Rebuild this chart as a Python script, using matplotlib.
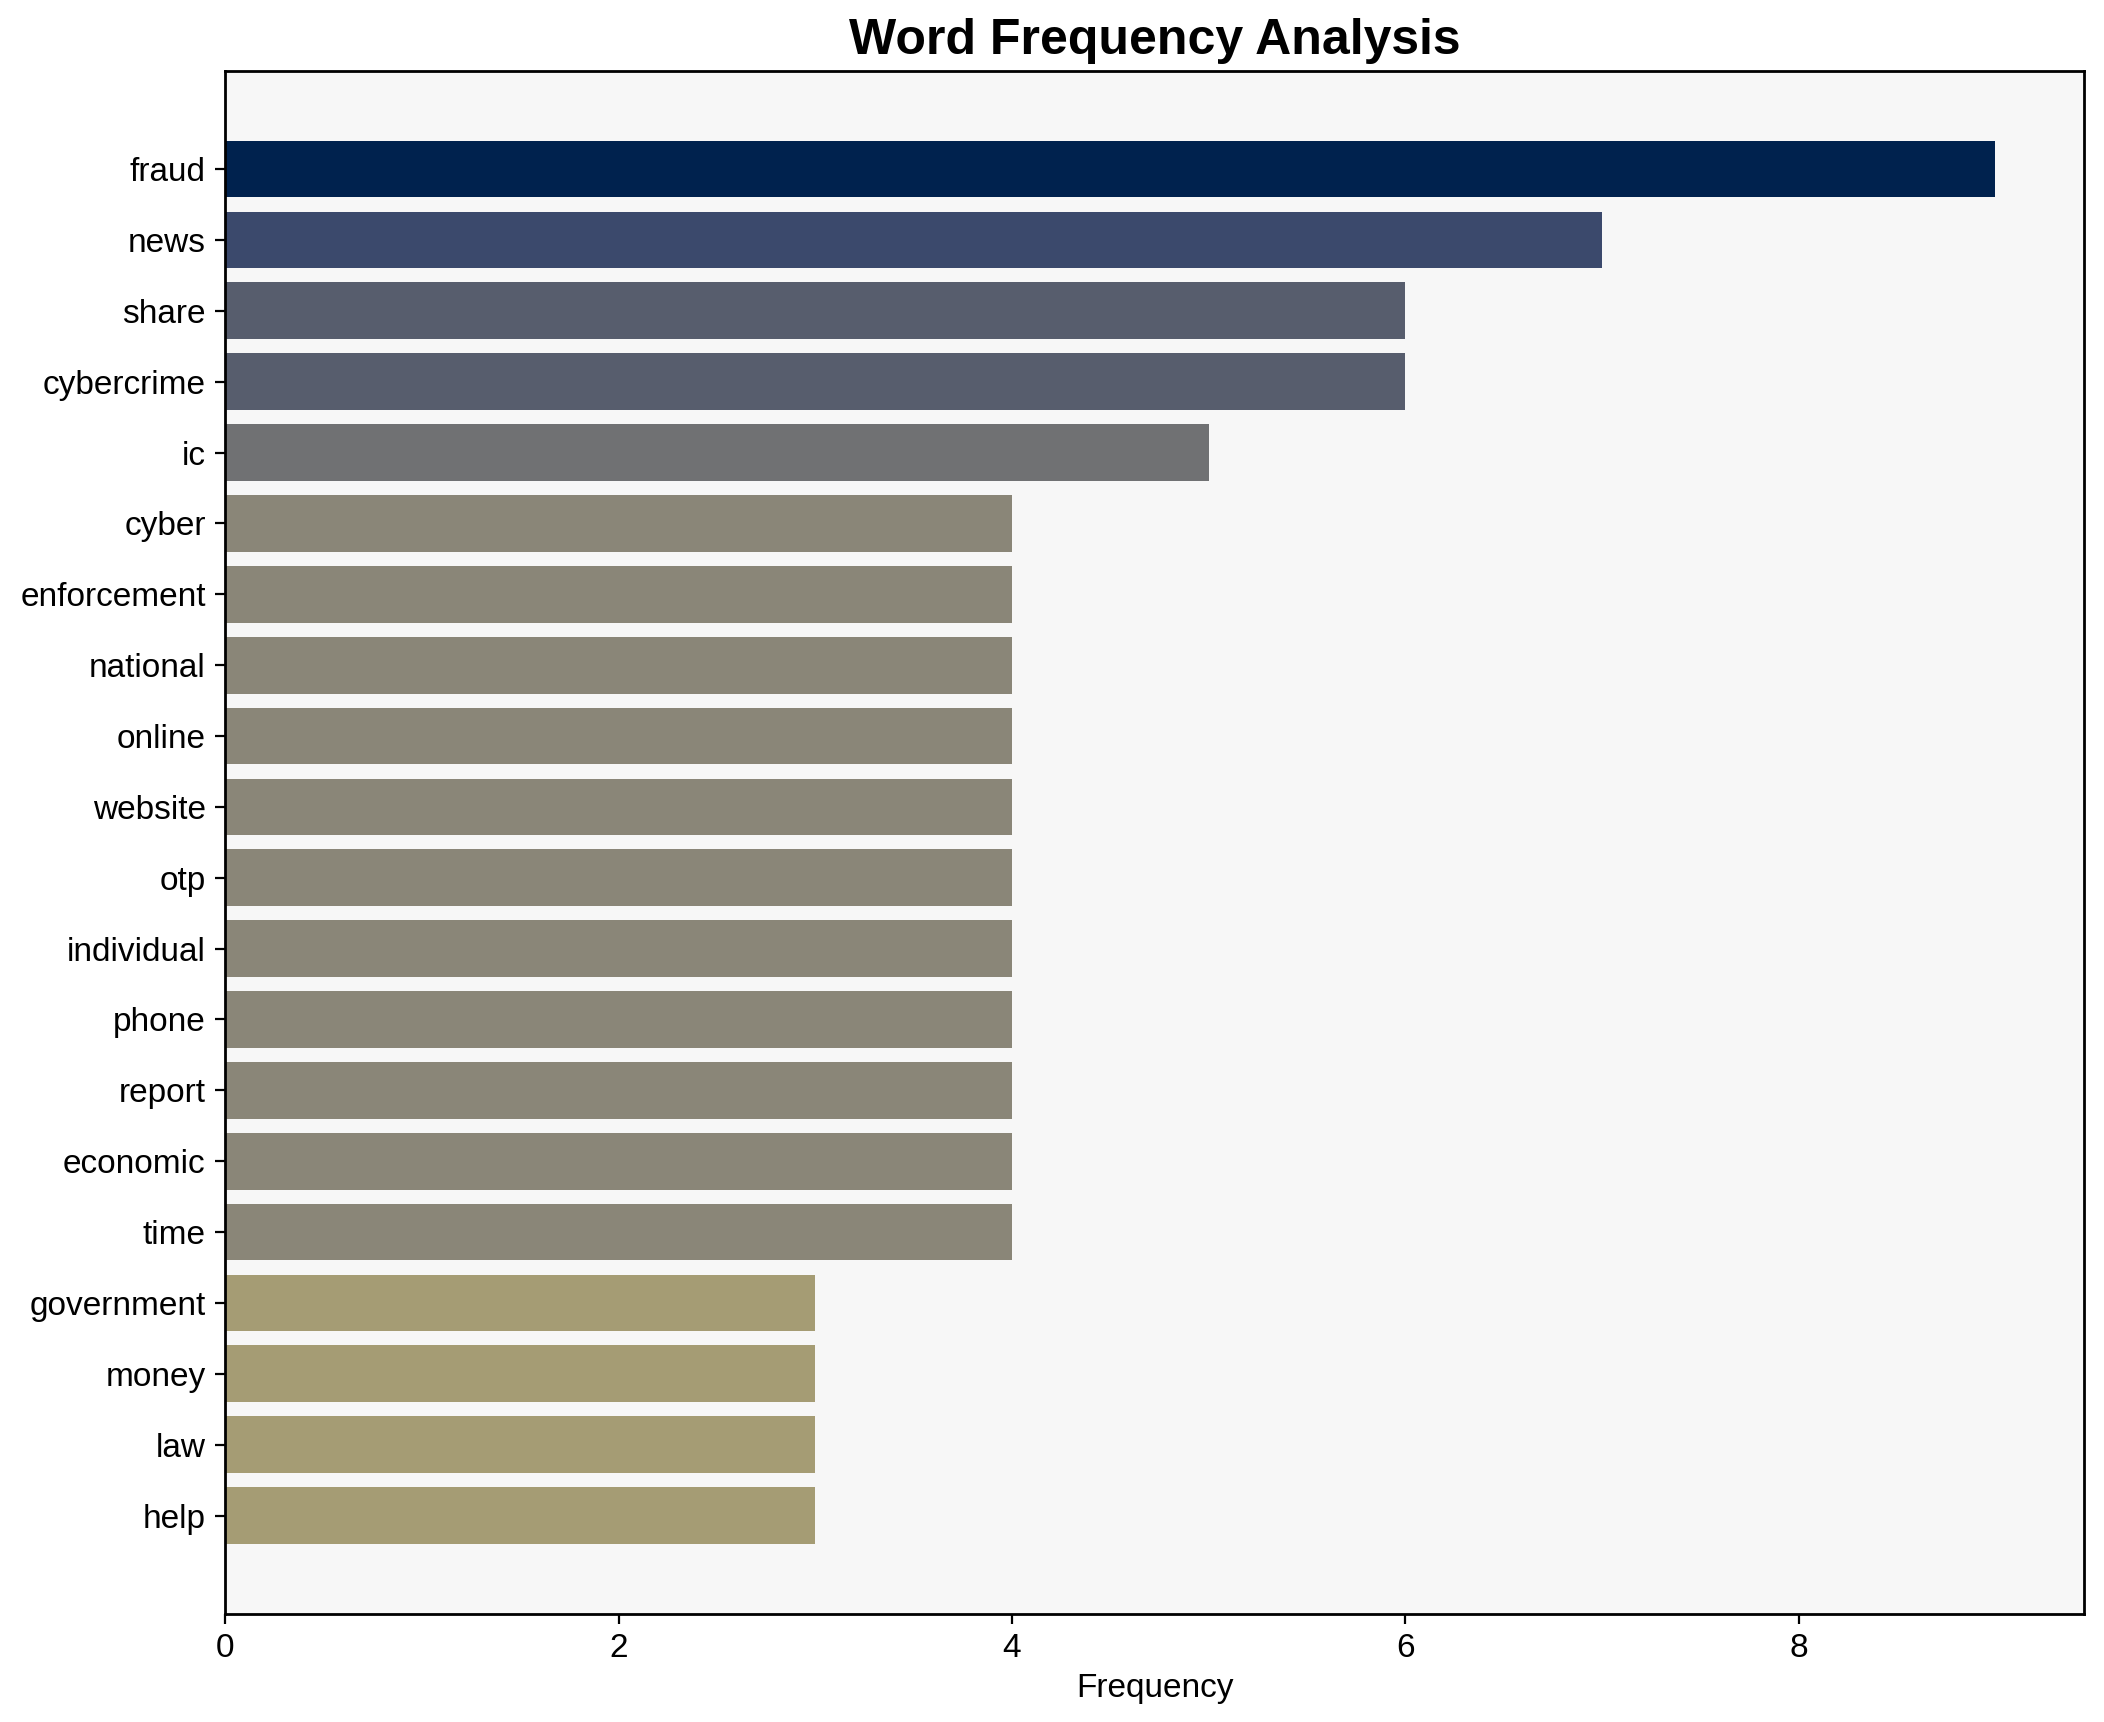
import matplotlib
matplotlib.use("Agg")
import matplotlib.pyplot as plt
import numpy as np

plt.rcParams['font.family'] = ['Liberation Sans', 'DejaVu Sans']

words = ['fraud', 'news', 'share', 'cybercrime', 'ic', 'cyber', 'enforcement',
         'national', 'online', 'website', 'otp', 'individual', 'phone', 'report',
         'economic', 'time', 'government', 'money', 'law', 'help']
counts = [9, 7, 6, 6, 5, 4, 4, 4, 4, 4, 4, 4, 4, 4, 4, 4, 3, 3, 3, 3]

fig, ax = plt.subplots(figsize=(10.52, 8.61), dpi=200)
fig.subplots_adjust(left=0.107, right=0.9905, top=0.959, bottom=0.0627)
ax.set_facecolor('#f7f7f7')

# colour by count, darker for more frequent words
vals = np.array(counts, dtype=float)
colors = plt.cm.cividis_r(vals / vals.max())
ax.barh(words, counts, color=colors, height=0.8)
ax.invert_yaxis()

ax.set_title('Word Frequency Analysis', fontsize=18, fontweight='bold')
ax.set_xlabel('Frequency', fontsize=12, labelpad=3)
ax.tick_params(axis='both', labelsize=12)
for s in ax.spines.values():
    s.set_linewidth(1.0)

fig.savefig('out.png', dpi=200)
